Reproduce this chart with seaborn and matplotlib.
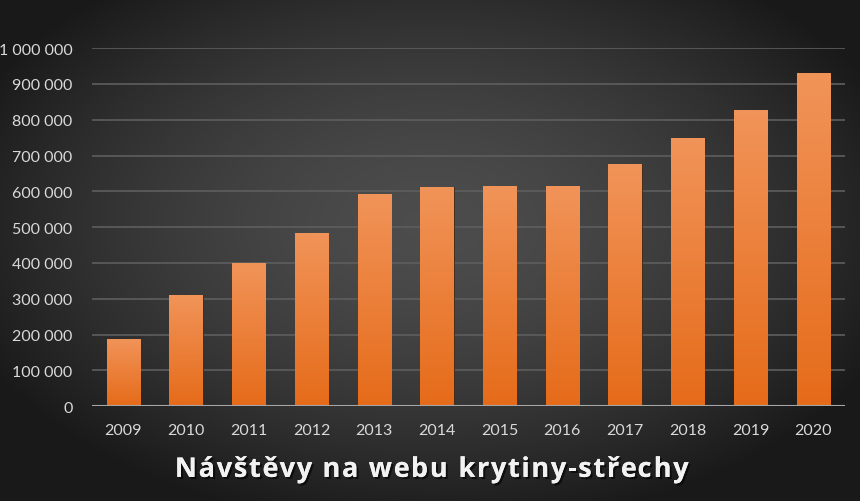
import numpy as np
import pandas as pd
import matplotlib
matplotlib.use("Agg")
import matplotlib.pyplot as plt
import matplotlib.patheffects as pe
from matplotlib.ticker import FuncFormatter
import seaborn as sns

# ── Data ──
years = ["2009", "2010", "2011", "2012", "2013", "2014",
         "2015", "2016", "2017", "2018", "2019", "2020"]
visits = [188000, 310000, 400000, 485000, 593000, 612000,
          614000, 614000, 676000, 749000, 827000, 930000]
y_ticks = [0, 100000, 200000, 300000, 400000, 500000,
           600000, 700000, 800000, 900000, 1000000]
title = "Návštěvy na webu krytiny-střechy"

TEXT_COLOR = "#d9d9d9"
GRID_COLOR = "#5e5e5e"


def spaced_title(fig, text, cx, cy, spacing_px, **kw):
    # draw text char by char so it gets letter spacing like the original
    r = fig.canvas.get_renderer()
    W = fig.bbox.width

    def width(s):
        t = fig.text(0, 0, s, **kw)
        w = t.get_window_extent(renderer=r).width
        t.remove()
        return w

    ref = width("x")
    full = width(text)
    total = full + spacing_px * (len(text) - 1)
    x0 = cx * W - total / 2
    for i, ch in enumerate(text):
        off = (width(text[:i] + "x") - ref) if i else 0
        fig.text((x0 + off + spacing_px * i) / W, cy, ch, ha="left",
                 va="center", **kw)


def main():
    sns.set_theme(style="dark")
    plt.rcParams['font.family'] = ['Lato', 'DejaVu Sans']

    fig = plt.figure(figsize=(8.6, 5.02), dpi=100)

    # ── Radial gradient background ──
    bg = fig.add_axes([0, 0, 1, 1], zorder=-10)
    xx, yy = np.meshgrid(np.linspace(-1, 1, 430), np.linspace(-1, 1, 251))
    r = np.sqrt((xx / 1.05) ** 2 + ((yy + 0.1) / 1.1) ** 2)
    shade = np.clip(0.30 - 0.17 * r ** 1.6, 0.1, 0.3)
    bg.imshow(np.dstack([shade] * 3), aspect="auto", extent=[0, 1, 0, 1],
              interpolation="bilinear")
    bg.set_axis_off()

    ax = fig.add_axes([0.107, 0.189, 0.875, 0.713])
    ax.patch.set_alpha(0)

    df = pd.DataFrame({"year": years, "visits": visits})
    sns.barplot(data=df, x="year", y="visits", color="#ee8030",
                width=0.53, ax=ax, zorder=3, edgecolor="#3a2414",
                linewidth=0.6)

    # orange vertical gradient clipped to each bar
    grad = np.linspace(0, 1, 256).reshape(-1, 1)
    top = np.array([0.945, 0.58, 0.35])
    bottom = np.array([0.90, 0.42, 0.10])
    img = top * (1 - grad[..., None]) + bottom * grad[..., None]
    for bar in ax.patches:
        x0, y0 = bar.get_x(), bar.get_y()
        w, h = bar.get_width(), bar.get_height()
        im = ax.imshow(img, extent=[x0, x0 + w, y0, y0 + h], aspect="auto",
                       zorder=3.5, interpolation="bilinear")
        im.set_clip_path(bar)

    ax.set_xlim(-0.5, len(years) - 0.5)
    ax.set_ylim(0, 1000000)
    ax.set_yticks(y_ticks)
    ax.yaxis.set_major_formatter(
        FuncFormatter(lambda v, p: f"{int(v):,}".replace(",", " ")))
    ax.grid(axis="y", color=GRID_COLOR, linewidth=1.2, zorder=0)
    ax.grid(axis="x", visible=False)
    ax.axhline(0, color="#a6a6a6", linewidth=1.5, zorder=4)
    for s in ax.spines.values():
        s.set_visible(False)
    ax.set_xlabel("")
    ax.set_ylabel("")
    ax.tick_params(axis="both", colors=TEXT_COLOR, labelsize=11.5,
                   length=0, pad=12)
    ax.tick_params(axis="y", pad=14)

    spaced_title(fig, title, 0.502, 0.062, 1.7,
                 fontsize=19.5, fontweight="bold", color="#f2f2f2",
                 family=['Open Sans', 'DejaVu Sans'],
                 path_effects=[pe.withSimplePatchShadow(
                     offset=(1.5, -1.5), shadow_rgbFace="black", alpha=0.6),
                     pe.Normal()])

    plt.savefig("out.png", dpi=100)


if __name__ == "__main__":
    main()
